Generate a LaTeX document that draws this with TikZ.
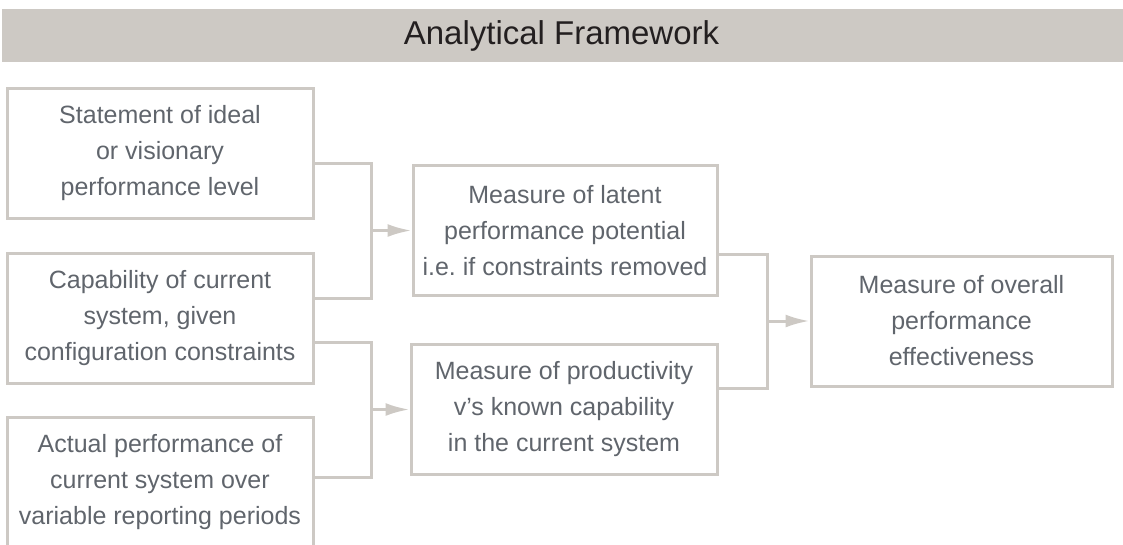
\documentclass[tikz,border=0pt]{standalone}
\usepackage{fontspec}
\setmainfont{Liberation Sans}
\usetikzlibrary{arrows.meta}
\definecolor{framegray}{RGB}{205,201,196}
\definecolor{textgray}{RGB}{96,101,108}
\definecolor{titleblack}{RGB}{35,31,32}
\frenchspacing
\begin{document}
\begin{tikzpicture}[x=1pt,y=-1pt,>={Latex[length=24pt,width=13pt]},
  box/.style={draw=framegray,line width=3pt,minimum width=306pt,minimum height=130pt,
    inner sep=0pt,align=center,text=textgray,font=\fontsize{25}{36}\selectfont},
  link/.style={draw=framegray,line width=3pt}]
\useasboundingbox (0,0) rectangle (1123,544);
\fill[framegray] (2,9) rectangle (1123,62);
\node[anchor=base,text=titleblack,font=\fontsize{33}{40}\selectfont] (title) at (561.5,44) {Analytical Framework};
% inputs
\node[box] (stmt) at (160,153.5) {Statement of ideal\\or visionary\\performance level};
\node[box] (capab) at (160,318) {Capability of current\\system, given\\configuration constraints};
\node[box] (actual) at (160,482) {Actual performance of\\current system over\\variable reporting periods};
% measures
\node[box,minimum width=304pt] (latent) at (565,230.5) {Measure of latent\\performance potential\\i.e. if constraints removed};
\node[box,minimum width=306pt] (prod) at (564,409.5) {Measure of productivity\\v's known capability\\in the current system};
\node[box,minimum width=301pt] (overall) at (961.5,321) {Measure of overall\\performance\\effectiveness};
\coordinate (j1) at (371,230.5);
\coordinate (j2) at (371,409.5);
\coordinate (j3) at (767,321);
\draw[link] ([yshift=-9.5pt]stmt.east) -| (j1) |- ([yshift=20pt]capab.east);
\draw[link] ([yshift=-24pt]capab.east) -| (j2) |- ([yshift=5pt]actual.east);
\draw[link] ([yshift=-23.5pt]latent.east) -| (j3) |- ([yshift=21.5pt]prod.east);
\draw[link,->] (j1)--(latent.west);
\draw[link,->] (j2)--(prod.west);
\draw[link,->] (j3)--(overall.west);
\end{tikzpicture}
\end{document}
